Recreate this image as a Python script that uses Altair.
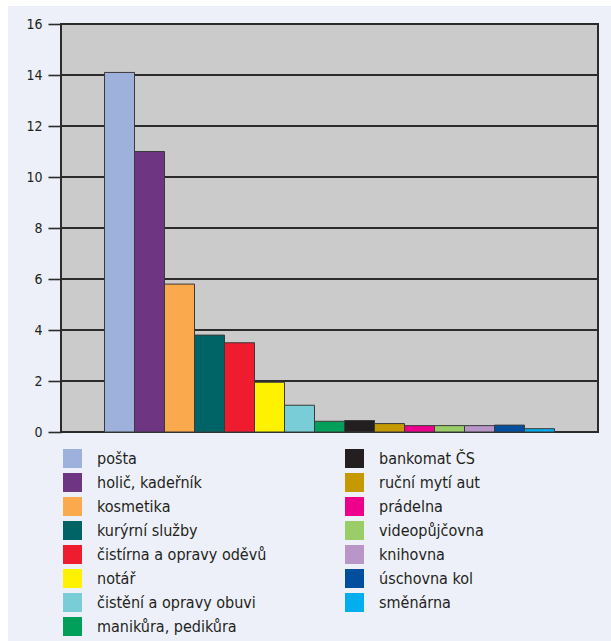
import altair as alt
import pandas as pd

# Services, in the order the bars are drawn (descending share)
names = [
    "pošta", "holič, kadeřník", "kosmetika", "kurýrní služby",
    "čistírna a opravy oděvů", "notář", "čistění a opravy obuvi",
    "manikůra, pedikůra", "bankomat ČS", "ruční mytí aut", "prádelna",
    "videopůjčovna", "knihovna", "úschovna kol", "směnárna",
]
values = [14.1, 11.0, 5.8, 3.8, 3.5, 1.95, 1.05, 0.42, 0.45, 0.33, 0.25,
          0.25, 0.25, 0.27, 0.13]
colors = [
    "#9DB1DC", "#6E3582", "#FBA94D", "#006466", "#EE1C2E", "#FFF200",
    "#78CDD7", "#00A05A", "#231F20", "#C49A00", "#EC008C", "#9ACD68",
    "#B897C8", "#004F9E", "#00AEEF",
]
y_ticks = [0, 2, 4, 6, 8, 10, 12, 14, 16]

W, H = 537, 408
FONT = "'DejaVu Sans Condensed', 'DejaVu Sans', sans-serif"

df = pd.DataFrame({"name": names, "value": values})

y_scale = alt.Scale(domain=[0, 16], nice=False)
y_axis = alt.Axis(values=y_ticks, grid=False, domain=False,
                  tickSize=13, tickWidth=1.6, tickColor="#2B2B2B",
                  labelFontSize=14, labelColor="#231F20",
                  labelPadding=6, labelFont=FONT, zindex=1)

page_bg = alt.Chart(pd.DataFrame({"a": [0]})).mark_rect(
    fill="#EDF0F8"
).encode(x=alt.value(-53), x2=alt.value(W + 13), y=alt.value(-18), y2=alt.value(H + 209))

plot_bg = alt.Chart(pd.DataFrame({"a": [0]})).mark_rect(
    fill="#CBCBCB", stroke="#2B2B2B", strokeWidth=2
).encode(x=alt.value(0), x2=alt.value(W), y=alt.value(0), y2=alt.value(H))

grid = alt.Chart(pd.DataFrame({"v": y_ticks[1:-1]})).mark_rule(
    color="#2B2B2B", strokeWidth=1.8
).encode(
    y=alt.Y("v:Q", title=None, scale=y_scale, axis=y_axis),
    x=alt.value(0), x2=alt.value(W),
)

bars = alt.Chart(df).mark_bar(stroke="#3A3A3A", strokeWidth=1).encode(
    x=alt.X("name:N", sort=names, axis=None,
            scale=alt.Scale(paddingInner=0, paddingOuter=0, range=[43.5, 493.5])),
    y=alt.Y("value:Q", title=None, scale=y_scale, axis=y_axis),
    color=alt.Color("name:N", title=None,
                    scale=alt.Scale(domain=names, range=colors),
                    legend=alt.Legend(orient="none", legendX=2, legendY=425,
                                      columns=2, columnPadding=78,
                                      rowPadding=5, symbolType="square",
                                      symbolSize=361, symbolStrokeWidth=0,
                                      labelFontSize=16, labelFont=FONT,
                                      labelColor="#231F20", labelOffset=15,
                                      labelLimit=300)),
)

chart = alt.layer(page_bg, plot_bg, grid, bars).properties(
    width=W, height=H,
    autosize=alt.AutoSizeParams(type="none"),
    padding={"left": 61, "top": 24, "right": 13, "bottom": 209},
    background="#FFFFFF",
).configure_view(stroke=None).configure(font=FONT)

chart.save("out.html", embed_options={"renderer": "svg", "actions": False})
